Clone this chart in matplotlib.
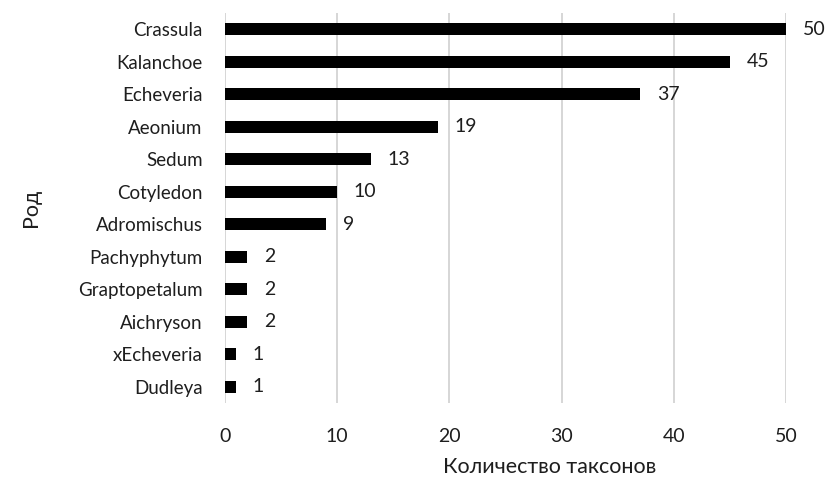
import matplotlib
matplotlib.use("Agg")
import matplotlib.pyplot as plt

genera = ["Crassula", "Kalanchoe", "Echeveria", "Aeonium", "Sedum", "Cotyledon",
          "Adromischus", "Pachyphytum", "Graptopetalum", "Aichryson", "xEcheveria", "Dudleya"]
counts = [50, 45, 37, 19, 13, 10, 9, 2, 2, 2, 1, 1]
xticks = [0, 10, 20, 30, 40, 50]

plt.rcParams["font.family"] = ["Lato", "DejaVu Sans"]
txt = "#1e1e1e"

fig = plt.figure(figsize=(8.30, 4.82), dpi=100)
ax = fig.add_axes([225 / 830, 1 - 403 / 482, (786 - 225) / 830, (403 - 13) / 482])

ypos = list(range(len(genera)))
ax.barh(ypos, counts, height=0.36, color="black", zorder=3)
for y, v in zip(ypos, counts):
    ax.annotate(str(v), (v, y), xytext=(12, 0), textcoords="offset points",
                va="center", ha="left", fontsize=14, color=txt)

ax.set_yticks(ypos)
ax.set_yticklabels(genera, fontsize=13.5)
ax.set_ylim(len(genera) - 0.5, -0.5)
ax.set_xlim(0, 50)
ax.set_xticks(xticks)
ax.set_xticklabels([str(t) for t in xticks], fontsize=14)
ax.tick_params(length=0, colors=txt)
ax.tick_params(axis="y", pad=16)
ax.tick_params(axis="x", pad=18)
ax.grid(axis="x", color="#d0d0d0", linewidth=1.2, zorder=0)
for s in ax.spines.values():
    s.set_visible(False)

ax.set_xlabel("Количество таксонов", fontsize=15.5, color=txt)
ax.xaxis.set_label_coords(0.578, -0.138)
ax.set_ylabel("Род", fontsize=15.5, color=txt, labelpad=27)

fig.savefig("out.png", dpi=100)
